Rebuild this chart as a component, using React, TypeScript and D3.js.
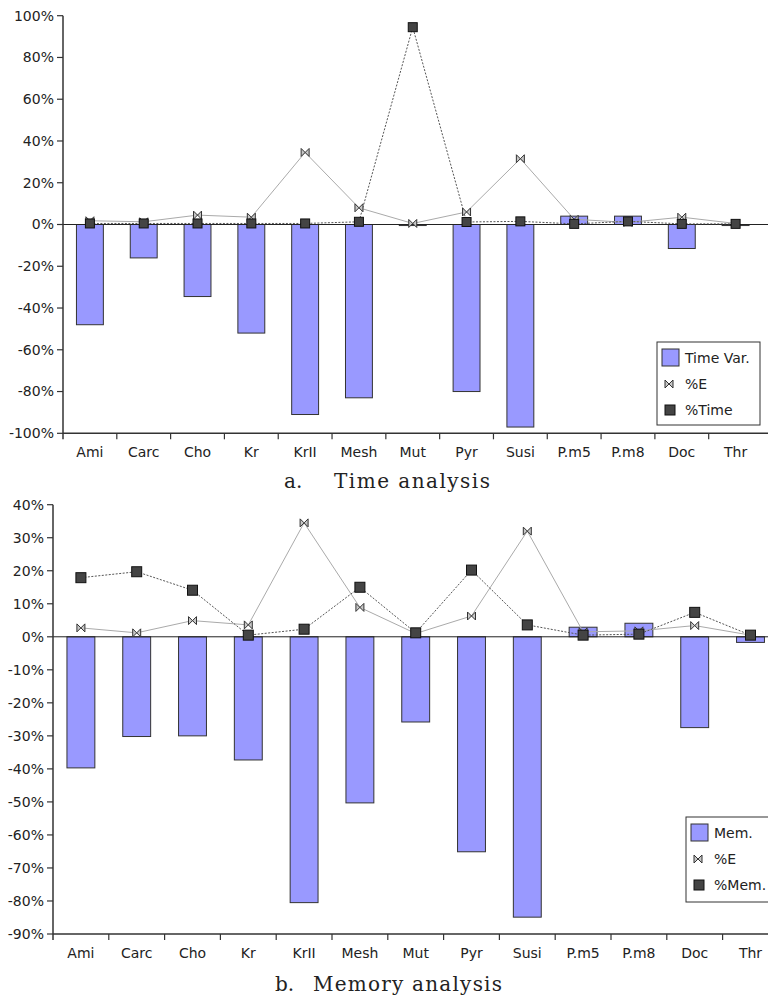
import React from "react";
import * as d3 from "d3";

const categories = ["Ami", "Carc", "Cho", "Kr", "KrII", "Mesh", "Mut", "Pyr", "Susi", "P.m5", "P.m8", "Doc", "Thr"];

// Time analysis (percent)
const timeVar = [-48, -16, -34.5, -52, -91, -83, -0.5, -80, -97, 4, 4, -11.5, -0.5];
const timeE = [1.8, 1.3, 4.5, 3.5, 34.5, 8, 0.5, 6, 31.5, 2.5, 1, 3.5, 0.5];
const timePct = [0.5, 0.5, 0.5, 0.5, 0.5, 1.3, 94.5, 1.2, 1.5, 0.3, 1.5, 0.3, 0.3];
const timeTicks = [100, 80, 60, 40, 20, 0, -20, -40, -60, -80, -100];

// Memory analysis (percent)
const memVar = [-39.7, -30.2, -30, -37.3, -80.5, -50.3, -25.8, -65.1, -84.9, 2.9, 4.1, -27.5, -1.7];
const memE = [2.7, 1.2, 4.9, 3.6, 34.5, 8.9, 1, 6.3, 32, 1.5, 1.8, 3.4, 0.5];
const memPct = [17.9, 19.7, 14.1, 0.5, 2.3, 15, 1.2, 20.2, 3.6, 0.5, 0.8, 7.4, 0.5];
const memTicks = [40, 30, 20, 10, 0, -10, -20, -30, -40, -50, -60, -70, -80, -90];

const SANS = "DejaVu Sans, sans-serif";
const SERIF = "DejaVu Serif, serif";
const BAR_FILL = "#9999ff";

const bowtie = (s: number) => `M${-s},${-s}L0,0L${-s},${s}ZM${s},${-s}L0,0L${s},${s}Z`;

type ChartProps = {
  x0: number; x1: number; yTop: number; yBot: number;
  domain: [number, number];
  bars: number[]; e: number[]; pct: number[]; ticks: number[];
  legend: { x: number; y: number; w: number; h: number; labels: string[] };
  labelY: number; sq: number;
};

function Chart(p: ChartProps) {
  const x = d3.scaleBand<string>().domain(categories).range([p.x0, p.x1]).paddingInner(0).paddingOuter(0);
  const y = d3.scaleLinear().domain(p.domain).range([p.yBot, p.yTop]);
  const bw = x.bandwidth() * 0.5;
  const cx = (c: string) => (x(c) as number) + x.bandwidth() / 2;
  const line = d3.line<number>().x((_, i) => cx(categories[i])).y((v) => y(v));
  const y0 = y(0);
  const L = p.legend;
  return (
    <g>
      {/* bars */}
      {p.bars.map((v, i) => (
        <rect key={"b" + i} x={cx(categories[i]) - bw / 2} width={bw}
          y={Math.min(y(v), y0)} height={Math.abs(y(v) - y0)}
          fill={BAR_FILL} stroke="#333" strokeWidth={1} />
      ))}
      {/* zero line */}
      <line x1={p.x0} x2={768} y1={y0} y2={y0} stroke="#222" strokeWidth={1} />
      {/* lines */}
      <path d={line(p.e) || ""} fill="none" stroke="#aaa" strokeWidth={1} />
      <path d={line(p.pct) || ""} fill="none" stroke="#555" strokeWidth={1} strokeDasharray="2,1.5" />
      {/* markers */}
      {p.e.map((v, i) => (
        <path key={"e" + i} d={bowtie(4)} transform={`translate(${cx(categories[i])},${y(v)})`}
          fill="#c8c8c8" stroke="#333" strokeWidth={1} />
      ))}
      {p.pct.map((v, i) => (
        <rect key={"p" + i} x={cx(categories[i]) - p.sq / 2} y={y(v) - p.sq / 2} width={p.sq} height={p.sq}
          fill="#444" stroke="#111" strokeWidth={1} />
      ))}
      {/* y axis */}
      <line x1={p.x0} x2={p.x0} y1={p.yTop} y2={p.yBot + 6} stroke="#333" strokeWidth={1.5} />
      {p.ticks.map((t) => (
        <g key={"t" + t}>
          <line x1={p.x0 - 6} x2={p.x0} y1={y(t)} y2={y(t)} stroke="#333" strokeWidth={1.2} />
          <text x={p.x0 - 9} y={y(t)} dy="0.35em" textAnchor="end" fontFamily={SANS} fontSize={14} fill="#222">{t}%</text>
        </g>
      ))}
      {/* x axis */}
      <line x1={p.x0} x2={768} y1={p.yBot} y2={p.yBot} stroke="#333" strokeWidth={1.5} />
      {categories.map((c, i) => (
        <g key={"c" + c}>
          {i > 0 && <line x1={x(c)} x2={x(c)} y1={p.yBot} y2={p.yBot + 6} stroke="#333" strokeWidth={1.2} />}
          <text x={cx(c)} y={p.labelY} textAnchor="middle" fontFamily={SANS} fontSize={14} fill="#222">{c}</text>
        </g>
      ))}
      {/* legend */}
      <rect x={L.x} y={L.y} width={L.w} height={L.h} fill="#fff" stroke="#333" strokeWidth={1} />
      <rect x={L.x + 5} y={L.y + 7} width={17} height={17} fill={BAR_FILL} stroke="#333" />
      <text x={L.x + 28} y={L.y + 16} dy="0.35em" fontFamily={SANS} fontSize={14} fill="#222">{L.labels[0]}</text>
      <path d={bowtie(4)} transform={`translate(${L.x + 12},${L.y + 42})`} fill="#c8c8c8" stroke="#333" />
      <text x={L.x + 28} y={L.y + 42} dy="0.35em" fontFamily={SANS} fontSize={14} fill="#222">{L.labels[1]}</text>
      <rect x={L.x + 8} y={L.y + 63} width={10} height={10} fill="#444" stroke="#111" />
      <text x={L.x + 28} y={L.y + 68} dy="0.35em" fontFamily={SANS} fontSize={14} fill="#222">{L.labels[2]}</text>
    </g>
  );
}

export default function App() {
  return (
    <svg width={768} height={1002} style={{ position: "absolute", left: 0, top: 0, background: "#fff" }}>
      <rect width={768} height={1002} fill="#fff" />
      <Chart x0={63} x1={762.5} yTop={15.7} yBot={433.3} domain={[-100, 100]}
        bars={timeVar} e={timeE} pct={timePct} ticks={timeTicks}
        legend={{ x: 657, y: 342, w: 103, h: 83, labels: ["Time Var.", "%E", "%Time"] }}
        labelY={457} sq={9} />
      <text x={284} y={488} fontFamily={SERIF} fontSize={20} fill="#222">a.</text>
      <text x={334} y={488} fontFamily={SERIF} fontSize={20} fill="#222" textLength={156} lengthAdjust="spacing">Time analysis</text>

      <Chart x0={53} x1={778.4} yTop={504.7} yBot={934} domain={[-90, 40]}
        bars={memVar} e={memE} pct={memPct} ticks={memTicks}
        legend={{ x: 686, y: 817, w: 100, h: 85, labels: ["Mem.", "%E", "%Mem."] }}
        labelY={958} sq={10} />
      <text x={275} y={991} fontFamily={SERIF} fontSize={20} fill="#222">b.</text>
      <text x={313} y={991} fontFamily={SERIF} fontSize={20} fill="#222" textLength={189} lengthAdjust="spacing">Memory analysis</text>
    </svg>
  );
}
